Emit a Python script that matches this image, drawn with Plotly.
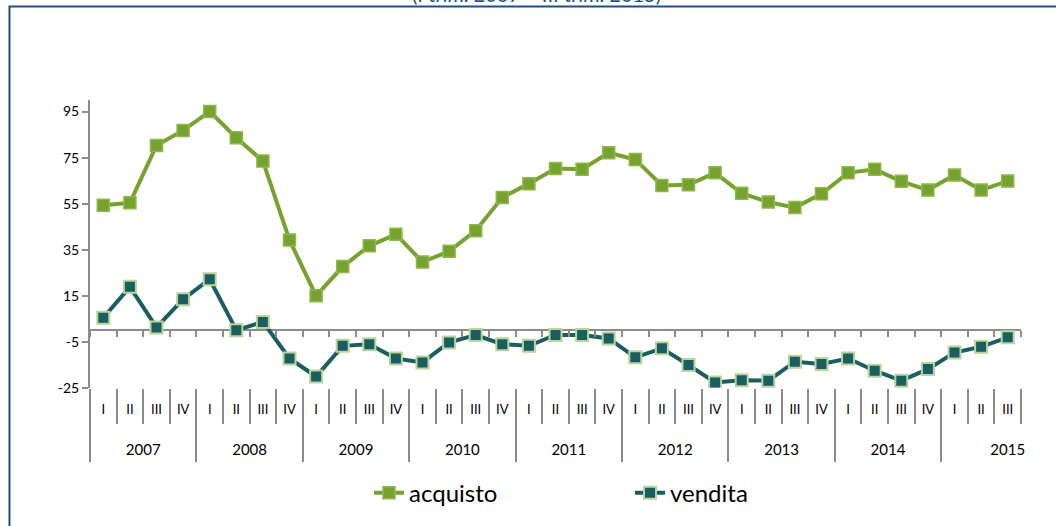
import plotly.graph_objects as go

# dati trimestrali: saldo delle risposte (acquisto / vendita)
years = ["2007", "2008", "2009", "2010", "2011", "2012", "2013", "2014", "2015"]
quarters = ["I", "II", "III", "IV"] * 8 + ["I", "II", "III"]
categories = [f"{q} {years[i // 4]}" for i, q in enumerate(quarters)]

acquisto = [54.3, 55.4, 80.3, 86.8, 95.0, 83.6, 73.5, 39.2,
            15.0, 27.7, 36.7, 41.7, 29.7, 34.3, 43.3, 57.7,
            63.7, 70.3, 69.9, 77.1, 74.2, 62.9, 63.2, 68.4,
            59.5, 55.7, 53.3, 59.3, 68.4, 69.9, 64.7, 60.9,
            67.4, 60.9, 64.8]
vendita = [5.5, 18.9, 1.3, 13.5, 22.2, 0.1, 3.7, -12.2,
           -20.0, -6.7, -6.0, -12.2, -13.9, -5.2, -2.0, -6.0,
           -6.7, -2.0, -2.0, -3.5, -11.7, -7.8, -15.0, -22.6,
           -21.6, -21.8, -13.6, -14.6, -12.2, -17.5, -21.8, -16.8,
           -9.6, -7.1, -3.0]

y_ticks = [-25, -5, 15, 35, 55, 75, 95]

GREEN = "#77A22F"
TEAL = "#1B5E62"
AXIS = "#8C8C8C"
FONT = "Lato"

n = len(categories)
boundaries = [i - 0.5 for i in range(n + 1)]
year_bounds = [i - 0.5 for i in range(0, n, 4)]
year_centers = [i + 1.5 for i in range(0, n, 4)]
year_centers[-1] = n - 1.0  # come nell'originale, 2015 spostato a destra

fig = go.Figure()
fig.add_trace(go.Scatter(
    x=categories, y=acquisto, name="acquisto", mode="lines+markers",
    line=dict(color=GREEN, width=4),
    marker=dict(symbol="square", size=12, color=GREEN,
                line=dict(color="#8DB84A", width=1.5)),
))
fig.add_trace(go.Scatter(
    x=categories, y=vendita, name="vendita", mode="lines+markers",
    line=dict(color=TEAL, width=4),
    marker=dict(symbol="square", size=12, color=TEAL,
                line=dict(color="#B9D59A", width=2)),
))
# tracce vuote per far disegnare gli assi sovrapposti
for ax in ["x2", "x3", "x4", "x5"]:
    fig.add_trace(go.Scatter(x=[None], y=[None], xaxis=ax, yaxis="y",
                             showlegend=False, hoverinfo="skip"))

common = dict(range=[-0.5, n - 0.5], showgrid=False, zeroline=False,
              fixedrange=True)

fig.update_layout(
    width=1056, height=526,
    margin=dict(l=90, r=35, t=100, b=137),
    paper_bgcolor="white", plot_bgcolor="white",
    font=dict(family=FONT, color="#000000"),
    showlegend=True,
    legend=dict(orientation="h", x=0.58, xanchor="center", y=-0.36,
                yanchor="middle", font=dict(size=24, family=FONT),
                entrywidth=216, entrywidthmode="pixels"),
    xaxis=dict(type="category", tickvals=categories, ticktext=quarters,
               ticks="", showline=False, tickfont=dict(size=13),
               ticklabelstandoff=12, **common),
    # separatori trimestri
    xaxis2=dict(overlaying="x", anchor="y", side="bottom", tickvals=boundaries,
                ticks="outside", ticklen=35, tickwidth=2, tickcolor=AXIS,
                showticklabels=False, showline=False, **common),
    # separatori anni
    xaxis3=dict(overlaying="x", anchor="y", side="bottom", tickvals=year_bounds,
                ticks="outside", ticklen=73, tickwidth=2, tickcolor=AXIS,
                showticklabels=False, showline=False, **common),
    # etichette anni
    xaxis4=dict(overlaying="x", anchor="y", side="bottom", tickvals=year_centers,
                ticktext=years, ticks="", showline=False,
                tickfont=dict(size=15), ticklabelstandoff=51, **common),
    # tacche sull'asse dello zero
    xaxis5=dict(overlaying="x", anchor="free", position=0.2, side="bottom",
                tickvals=boundaries, ticks="outside", ticklen=6, tickwidth=1.5,
                tickcolor=AXIS, showticklabels=False, showline=False, **common),
    yaxis=dict(range=[-25, 100], tickvals=y_ticks,
               ticktext=[str(v) for v in y_ticks],
               showgrid=False, zeroline=True, zerolinecolor=AXIS,
               zerolinewidth=1.5, showline=True, linecolor=AXIS, linewidth=2,
               ticks="outside", ticklen=6, tickwidth=1.5, tickcolor=AXIS,
               tickfont=dict(size=14), fixedrange=True),
)

# cornice blu (tagliata come nell'originale) e sottotitolo parzialmente visibile
fig.add_shape(type="rect", xref="paper", yref="paper",
              x0=-0.0865, x1=1.1, y0=-0.6, y1=1.325,
              line=dict(color="#1F4E8C", width=2))
fig.add_annotation(text="(I trim. 2007 – III trim. 2015)", xref="paper",
                   yref="paper", x=0.48, y=1.321, xanchor="center",
                   yanchor="bottom", showarrow=False,
                   font=dict(size=20, color="#1F4E8C", family=FONT))

# niente margine della pagina, così il grafico parte dall'angolo in alto a sinistra
fig.write_html("out.html", config={"displayModeBar": False},
               post_script="document.body.style.margin='0px';")
